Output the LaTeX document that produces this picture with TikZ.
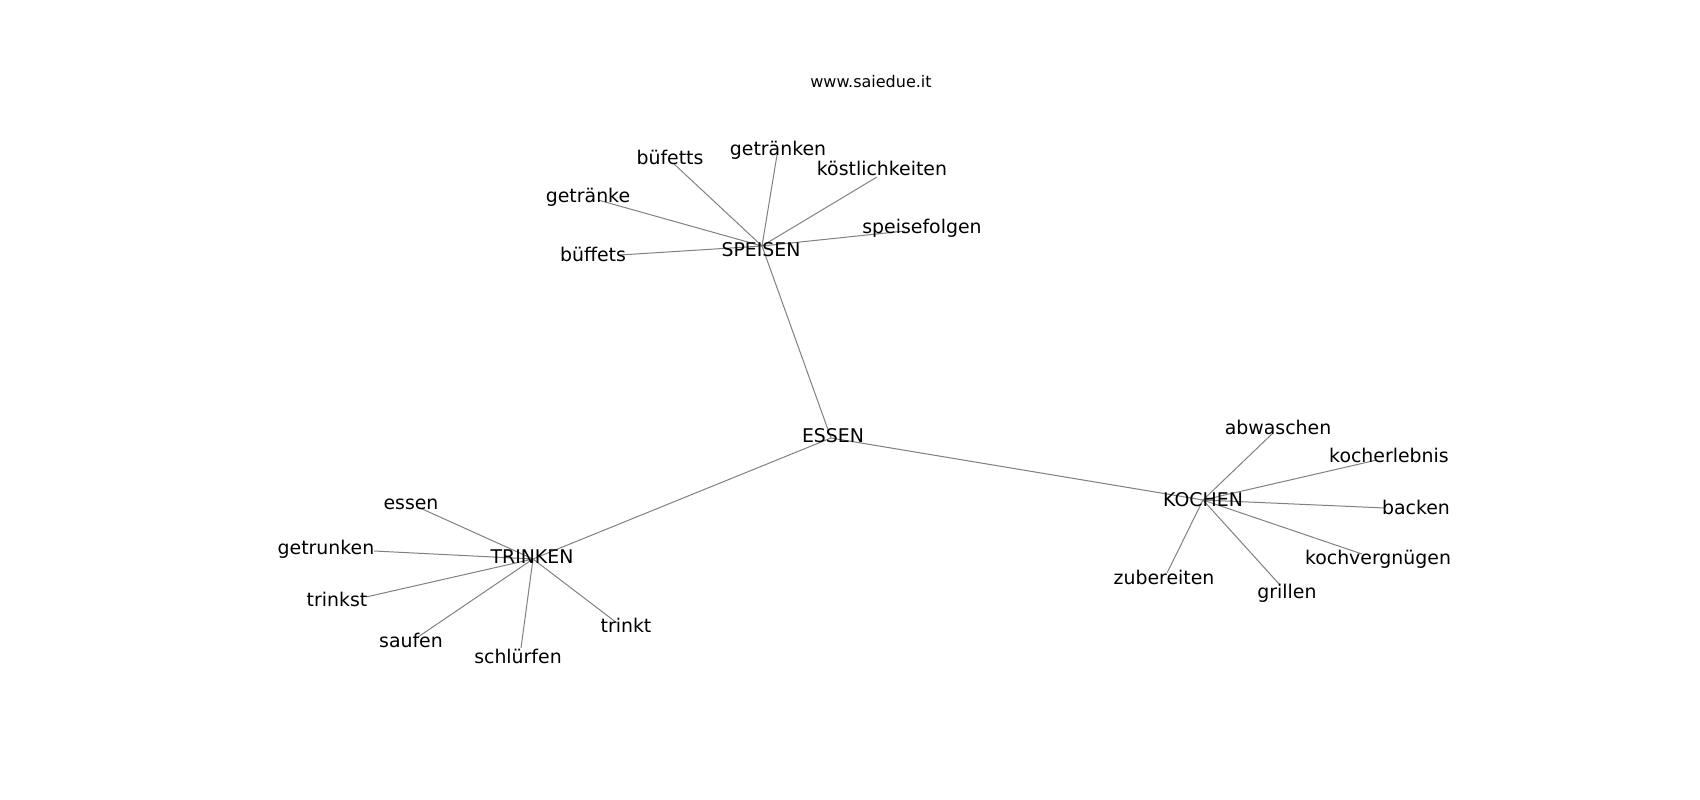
\documentclass[tikz,border=0pt]{standalone}
\usepackage{fontspec}
\setmainfont{DejaVu Sans}
\begin{document}
\begin{tikzpicture}[x=1pt,y=-1pt,
        vert/.style={inner sep=0pt,minimum size=0pt},
        word/.style={font=\fontsize{18.9}{22}\selectfont,inner sep=0pt,text height=13.6pt,text depth=0pt},
        edge/.style={draw=gray,line width=1pt}]
        \useasboundingbox (0,0) rectangle (1700,800);
        % points where the lines meet
        \draw (831,438)  node[vert] (essen) {};
        \draw (762,246)  node[vert] (speisen) {};
        \draw (533,559)  node[vert] (trinken) {};
        \draw (1203,500) node[vert] (kochen) {};
        \draw (673,163)  node[vert] (buefetts) {};
        \draw (777,155)  node[vert] (getraenken) {};
        \draw (877,177)  node[vert] (koestl) {};
        \draw (598,200)  node[vert] (getraenke) {};
        \draw (905,231)  node[vert] (speisef) {};
        \draw (620,255)  node[vert] (bueffets) {};
        \draw (420,508)  node[vert] (essenw) {};
        \draw (374,551)  node[vert] (getrunken) {};
        \draw (366,597)  node[vert] (trinkst) {};
        \draw (418,637)  node[vert] (saufen) {};
        \draw (521,648)  node[vert] (schluerfen) {};
        \draw (617,623)  node[vert] (trinkt) {};
        \draw (1273,433) node[vert] (abwaschen) {};
        \draw (1377,460) node[vert] (kocherl) {};
        \draw (1385,508) node[vert] (backen) {};
        \draw (1362,554) node[vert] (kochverg) {};
        \draw (1280,585) node[vert] (grillen) {};
        \draw (1167,573) node[vert] (zubereiten) {};
        \draw[edge] (essen) -- (speisen)
              (essen) -- (trinken)
              (essen) -- (kochen)
              (speisen) -- (buefetts)
              (speisen) -- (getraenken)
              (speisen) -- (koestl)
              (speisen) -- (getraenke)
              (speisen) -- (speisef)
              (speisen) -- (bueffets)
              (trinken) -- (essenw)
              (trinken) -- (getrunken)
              (trinken) -- (trinkst)
              (trinken) -- (saufen)
              (trinken) -- (schluerfen)
              (trinken) -- (trinkt)
              (kochen) -- (abwaschen)
              (kochen) -- (kocherl)
              (kochen) -- (backen)
              (kochen) -- (kochverg)
              (kochen) -- (grillen)
              (kochen) -- (zubereiten);
        % labels
        \node[font=\fontsize{16}{19}\selectfont] (site) at (871,82) {www.saiedue.it};
        \node[word] (l-essen) at (833,436) {ESSEN};
        \node[word] (l-speisen) at (761,250) {SPEISEN};
        \node[word] (l-trinken) at (532,557) {TRINKEN};
        \node[word] (l-kochen) at (1203,500) {KOCHEN};
        \node[word] (l-buefetts) at (670,158) {büfetts};
        \node[word] (l-getraenken) at (778,149) {getränken};
        \node[word] (l-koestl) at (882,169) {köstlichkeiten};
        \node[word] (l-getraenke) at (588,196) {getränke};
        \node[word] (l-speisef) at (922,227) {speisefolgen};
        \node[word] (l-bueffets) at (593,255) {büffets};
        \node[word] (l-essenw) at (411,503) {essen};
        \node[word] (l-getrunken) at (326,548) {getrunken};
        \node[word] (l-trinkst) at (337,600) {trinkst};
        \node[word] (l-saufen) at (411,641) {saufen};
        \node[word] (l-schluerfen) at (518,657) {schlürfen};
        \node[word] (l-trinkt) at (626,626) {trinkt};
        \node[word] (l-abwaschen) at (1278,428) {abwaschen};
        \node[word] (l-kocherl) at (1389,456) {kocherlebnis};
        \node[word] (l-backen) at (1416,508) {backen};
        \node[word] (l-kochverg) at (1378,558) {kochvergnügen};
        \node[word] (l-grillen) at (1287,592) {grillen};
        \node[word] (l-zubereiten) at (1164,578) {zubereiten};
\end{tikzpicture}
\end{document}
